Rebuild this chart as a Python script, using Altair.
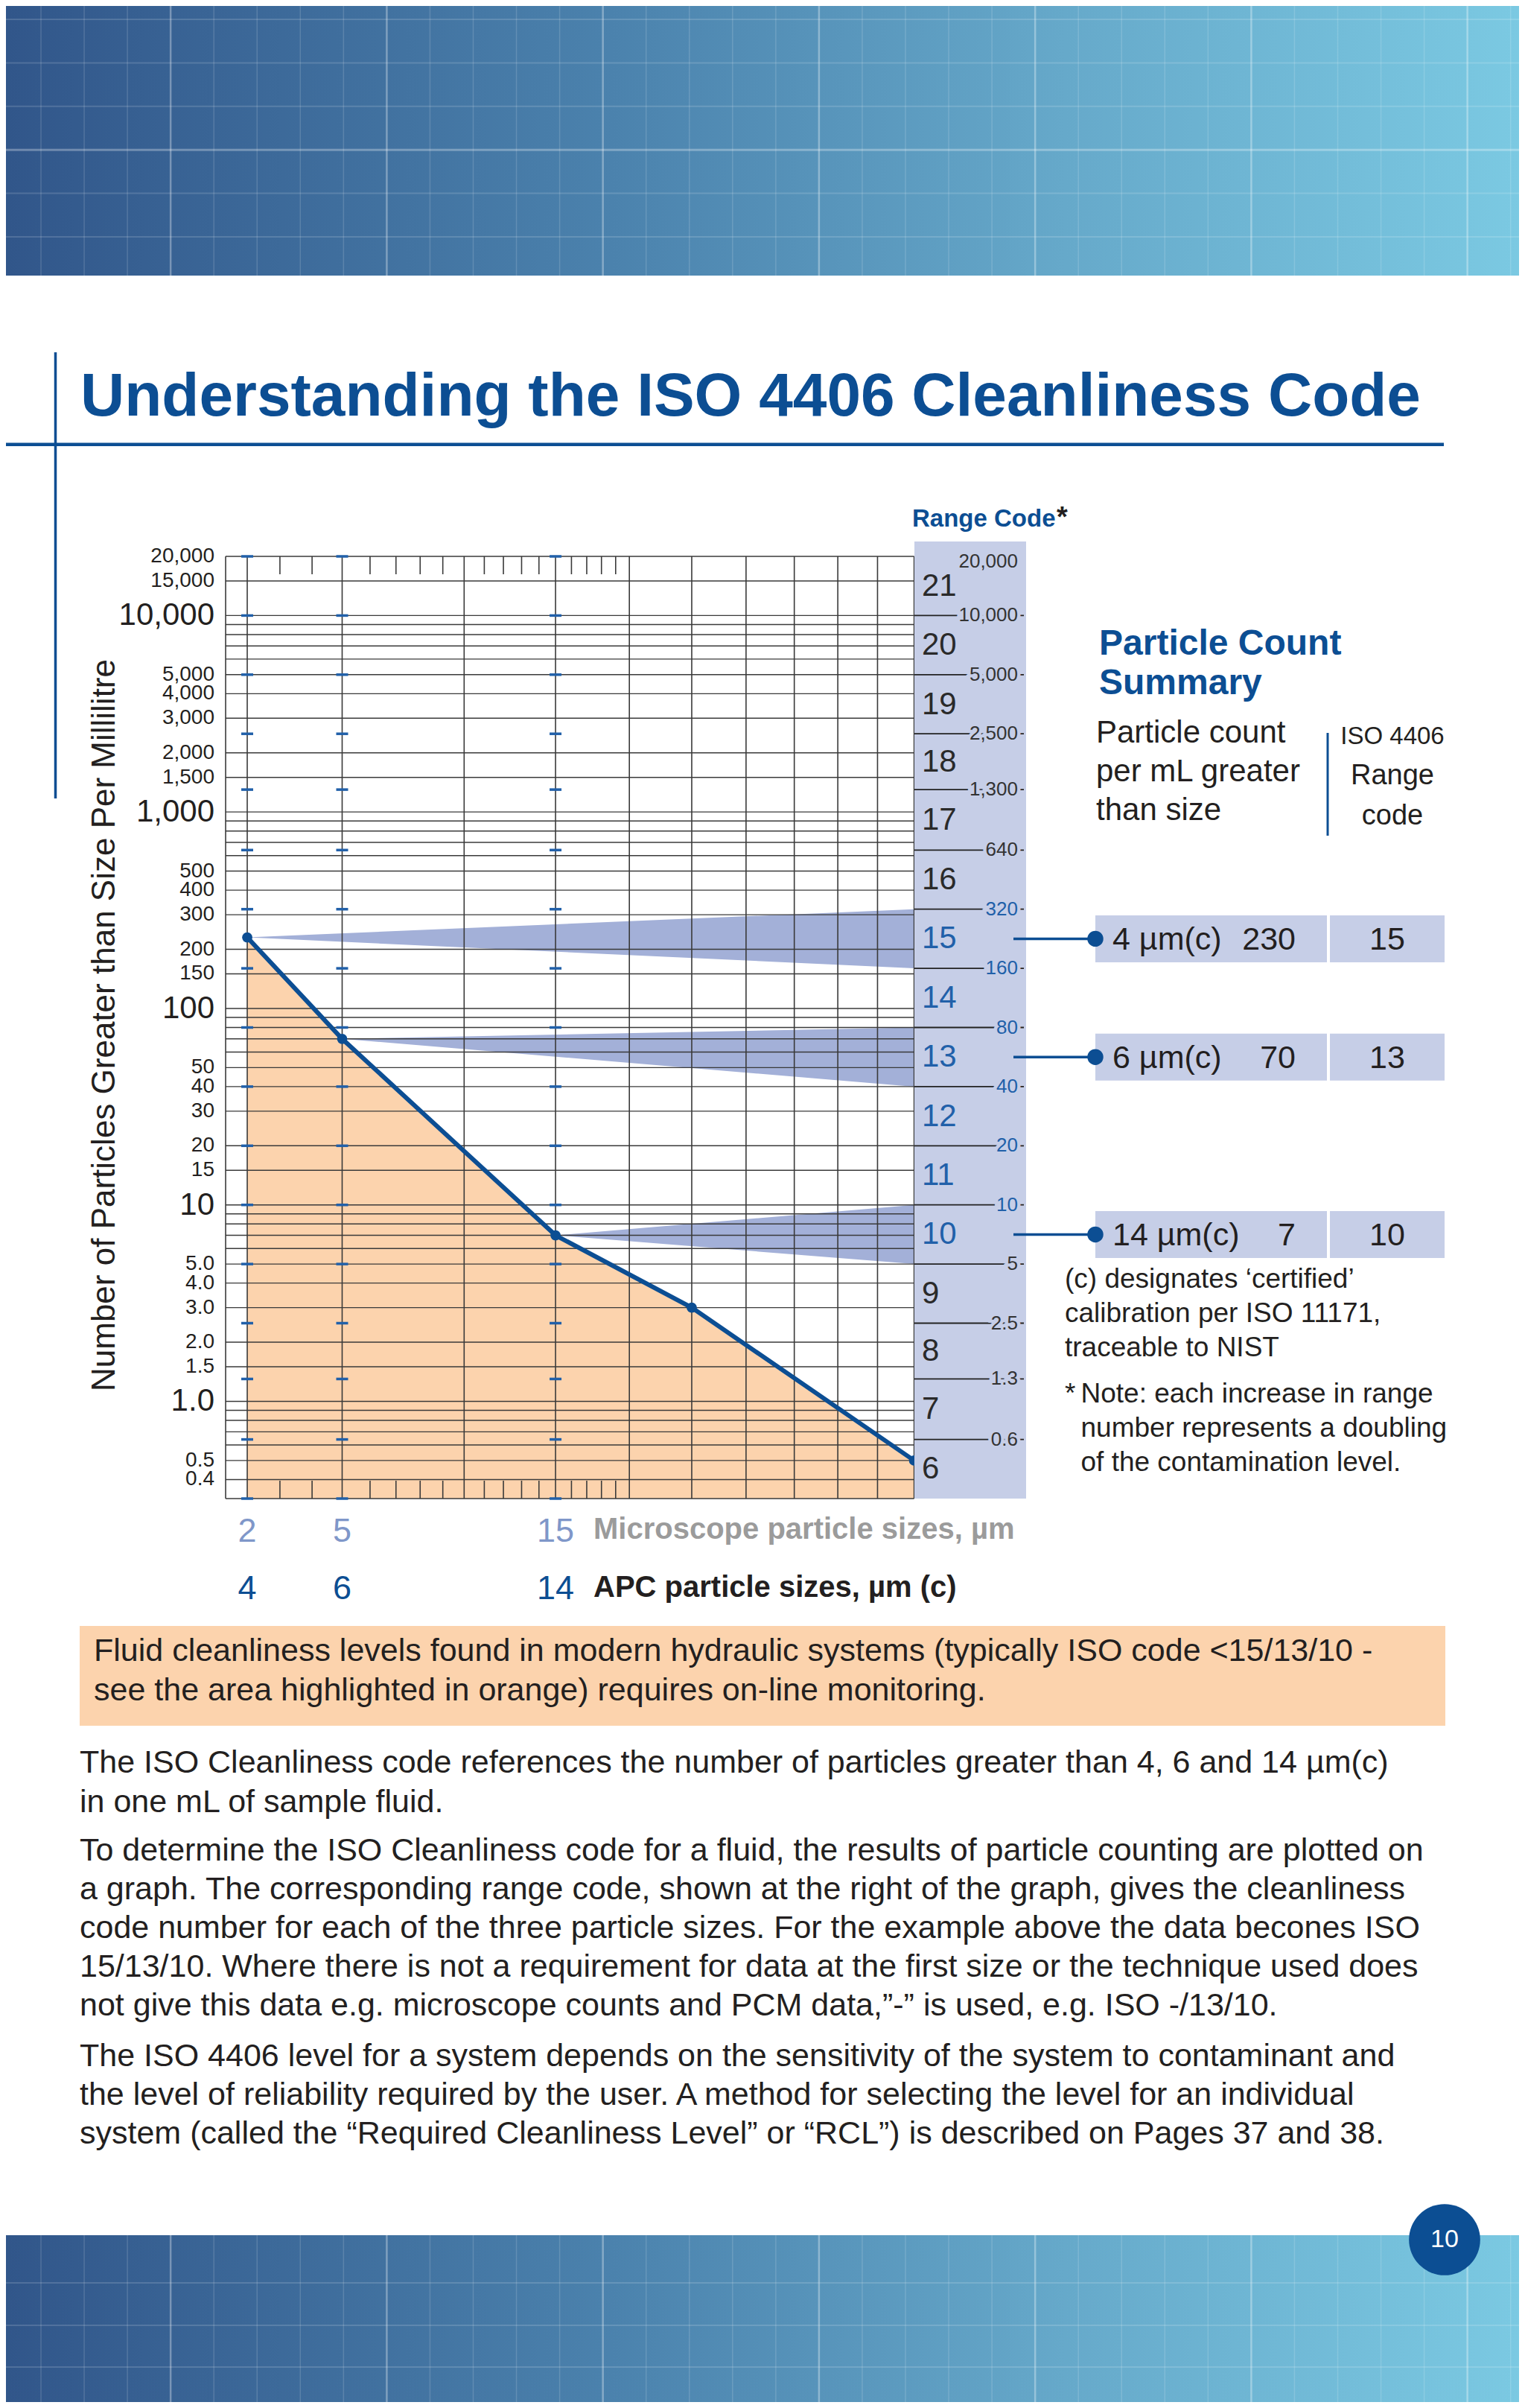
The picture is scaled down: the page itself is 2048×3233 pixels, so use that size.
import math
import altair as alt
import pandas as pd

# ------------------------------------------------------------------
# Values
# ------------------------------------------------------------------
micro_sizes = [2, 5, 15, 25, 50]          # microscope particle size, µm
particle_counts = [230, 70, 7, 3, 0.5]    # particles per mL greater than size

summary_labels = ["4 µm(c)", "6 µm(c)", "14 µm(c)"]
summary_micro = [2, 5, 15]
summary_counts = [230, 70, 7]
summary_codes = [15, 13, 10]

range_codes = [6, 7, 8, 9, 10, 11, 12, 13, 14, 15, 16, 17, 18, 19, 20, 21]
range_bounds = [0.32, 0.64, 1.3, 2.5, 5, 10, 20, 40, 80, 160, 320, 640, 1300, 2500, 5000, 10000, 20000]
range_bound_labels = ["", "0.6", "1.3", "2.5", "5", "10", "20", "40", "80", "160", "320", "640",
                      "1,300", "2,500", "5,000", "10,000", "20,000"]

y_major_values = [10000, 1000, 100, 10, 1]
y_major_labels = ["10,000", "1,000", "100", "10", "1.0"]
y_minor_values = [20000, 15000, 5000, 4000, 3000, 2000, 1500, 500, 400, 300, 200, 150,
                  50, 40, 30, 20, 15, 5, 4, 3, 2, 1.5, 0.5, 0.4]
y_minor_labels = ["20,000", "15,000", "5,000", "4,000", "3,000", "2,000", "1,500", "500", "400",
                  "300", "200", "150", "50", "40", "30", "20", "15", "5.0", "4.0", "3.0", "2.0",
                  "1.5", "0.5", "0.4"]

y_grid = [20000, 15000, 10000, 9000, 8000, 7000, 6000, 5000, 4000, 3000, 2000, 1500,
          1000, 900, 800, 700, 600, 500, 400, 300, 200, 150, 100, 90, 80, 70, 60, 50, 40,
          30, 20, 15, 10, 9, 8, 7, 6, 5, 4, 3, 2, 1.5, 1, 0.9, 0.8, 0.7, 0.6, 0.5, 0.4, 0.32]
x_grid = [1, 2, 5, 10, 15, 20, 25, 30, 35, 40, 45, 50]
x_minor = [3, 4, 6, 7, 8, 9, 11, 12, 13, 14, 16, 17, 18, 19]
dash_sizes = [2, 5, 15]

axis_micro_sizes = [2, 5, 15]
axis_micro_labels = ["2", "5", "15"]
axis_apc_labels = ["4", "6", "14"]

TITLE = "Understanding the ISO 4406 Cleanliness Code"
Y_TITLE = "Number of Particles Greater than Size Per Millilitre"
MICRO_TITLE = "Microscope particle sizes, µm"
APC_TITLE = "APC particle sizes, µm (c)"
SUMMARY_TITLE = "Particle Count\nSummary"
SUMMARY_COL1 = "Particle count\nper mL greater\nthan size"
SUMMARY_COL2A = "ISO 4406"
SUMMARY_COL2B = "Range\ncode"
NOTE_C = "(c) designates \u2018certified\u2019\ncalibration per ISO 11171,\ntraceable to NIST"
NOTE_STAR = "Note: each increase in range\nnumber represents a doubling\nof the contamination level."
BOX_TEXT = ("Fluid cleanliness levels found in modern hydraulic systems (typically ISO code <15/13/10 -\n"
            "see the area highlighted in orange) requires on-line monitoring.")
PARA1 = ("The ISO Cleanliness code references the number of particles greater than 4, 6 and 14 \u00b5m(c)\n"
         "in one mL of sample fluid.")
PARA2 = ("To determine the ISO Cleanliness code for a fluid, the results of particle counting are plotted on\n"
         "a graph. The corresponding range code, shown at the right of the graph, gives the cleanliness\n"
         "code number for each of the three particle sizes. For the example above the data becones ISO\n"
         "15/13/10. Where there is not a requirement for data at the first size or the technique used does\n"
         "not give this data e.g. microscope counts and PCM data,\u201d-\u201d is used, e.g. ISO -/13/10.")
PARA3 = ("The ISO 4406 level for a system depends on the sensitivity of the system to contaminant and\n"
         "the level of reliability required by the user. A method for selecting the level for an individual\n"
         "system (called the \u201cRequired Cleanliness Level\u201d or \u201cRCL\u201d) is described on Pages 37 and 38.")
PAGE_NO = "10"

# ------------------------------------------------------------------
# Styles / geometry
# ------------------------------------------------------------------
W, H = 2032, 3217
PL, PR, PT, PB = 295, 1219.6, 739, 2004
XMAX = math.log10(50) ** 2
XS = alt.Scale(domain=[0, XMAX], range=[PL, PR], nice=False, zero=False)
YS = alt.Scale(type="log", domain=[0.32, 20000], range=[PB, PT], nice=False)
XT = "pow(log(datum.size) / LN10, 2)"

SANS = "Liberation Sans"
BLUE = "#0c4e93"
MIDBLUE = "#2160a9"
LIGHTBLUE_TXT = "#7f97c9"
COL_BG = "#c6cee7"
WEDGE = "#a3b0d8"
ORANGE = "#fcd3ad"
GRID = "#3a3a3a"
TXT = "#231f20"

GRAD = {"gradient": "linear", "x1": 0, "y1": 0, "x2": 1, "y2": 0,
        "stops": [{"offset": 0, "color": "#31568a"}, {"offset": 0.4, "color": "#4b82ad"},
                  {"offset": 0.7, "color": "#66a9ca"}, {"offset": 1, "color": "#7bc9e2"}]}

layers = []
one = pd.DataFrame({"k": [0]})


def add(c):
    layers.append(c)


def xenc():
    return alt.X("xt:Q", scale=XS, axis=None)


def yenc(field):
    return alt.Y(field, scale=YS, axis=None)


def text_block(text, x, y, size, color=TXT, weight="normal", align="left",
               baseline="alphabetic", font=SANS, angle=None, line_height=None):
    props = dict(fontSize=size, fill=color, fontWeight=weight, align=align,
                 baseline=baseline, font=font)
    if angle is not None:
        props["angle"] = angle
    if "\n" in text:
        props["lineBreak"] = "\n"
        props["lineHeight"] = line_height
    return alt.Chart(pd.DataFrame({"t": [text]})).mark_text(**props).encode(
        x=alt.value(x), y=alt.value(y), text="t:N")


def band(y0, y1, hlines):
    add(alt.Chart(one).mark_rect(fill=GRAD).encode(
        x=alt.value(0), x2=alt.value(W), y=alt.value(y0), y2=alt.value(y1)))
    add(alt.Chart(alt.sequence(0, 35, as_="k"))
        .transform_calculate(px="47 + 58.05 * datum.k", hi="datum.k % 5 == 3 ? 1 : 0")
        .mark_rule(color="white")
        .encode(x=alt.X("px:Q", scale=None, axis=None), y=alt.value(y0), y2=alt.value(y1),
                strokeOpacity=alt.condition(alt.datum.hi == 1, alt.value(0.33), alt.value(0.15)),
                strokeWidth=alt.condition(alt.datum.hi == 1, alt.value(2.5), alt.value(1.5))))
    add(alt.Chart(pd.DataFrame({"py": hlines, "hi": [1 if i == 3 else 0 for i in range(len(hlines))]}))
        .mark_rule(color="white")
        .encode(y=alt.Y("py:Q", scale=None, axis=None), x=alt.value(0), x2=alt.value(W),
                strokeOpacity=alt.condition(alt.datum.hi == 1, alt.value(0.3), alt.value(0.15)),
                strokeWidth=alt.condition(alt.datum.hi == 1, alt.value(3), alt.value(2))))


# header and footer bands
band(0, 362, [18, 76.4, 134.8, 193.2, 251.6, 310])
band(2993, H, [3057, 3114, 3170])
add(alt.Chart(one).mark_circle(size=9160, color=BLUE, opacity=1).encode(
    x=alt.value(1932), y=alt.value(2999)))
add(text_block(PAGE_NO, 1932, 2999, 34, color="white", align="center", baseline="middle"))

# title
add(alt.Chart(one).mark_rule(color=BLUE, strokeWidth=3.5).encode(
    x=alt.value(66.5), y=alt.value(465), y2=alt.value(1064)))
add(alt.Chart(one).mark_rule(color=BLUE, strokeWidth=4.5).encode(
    x=alt.value(0), x2=alt.value(1931), y=alt.value(588.7)))
add(text_block(TITLE, 100, 550, 82, color=BLUE, weight="bold"))

# ------------------------------------------------------------------
# main plot
# ------------------------------------------------------------------
line_df = pd.DataFrame({"size": micro_sizes, "count": particle_counts})

add(alt.Chart(line_df).transform_calculate(xt=XT)
    .mark_area(color=ORANGE, opacity=1)
    .encode(x=xenc(), y=yenc("count:Q"), y2=alt.Y2Datum(0.32)))

wedge_rows = []
for i, (m, c, code) in enumerate(zip(summary_micro, summary_counts, summary_codes)):
    lo, hi = range_bounds[code - range_codes[0]], range_bounds[code - range_codes[0] + 1]
    wedge_rows.append({"g": i, "size": m, "top": c, "bot": c})
    wedge_rows.append({"g": i, "size": x_grid[-1], "top": hi, "bot": lo})
add(alt.Chart(pd.DataFrame(wedge_rows)).transform_calculate(xt=XT)
    .mark_area(color=WEDGE, opacity=1)
    .encode(x=xenc(), y=yenc("top:Q"), y2="bot:Q", detail="g:N"))

add(alt.Chart(pd.DataFrame({"v": y_grid})).mark_rule(color=GRID, strokeWidth=1.4)
    .encode(y=yenc("v:Q"), x=alt.value(PL), x2=alt.value(PR)))
add(alt.Chart(pd.DataFrame({"size": x_grid})).transform_calculate(xt=XT)
    .mark_rule(color=GRID, strokeWidth=1.6)
    .encode(x=xenc(), y=alt.value(PT), y2=alt.value(PB)))
minor_df = pd.DataFrame({"size": x_minor})
add(alt.Chart(minor_df).transform_calculate(xt=XT).mark_rule(color=GRID, strokeWidth=1.6)
    .encode(x=xenc(), y=alt.value(PT), y2=alt.value(PT + 24)))
add(alt.Chart(minor_df).transform_calculate(xt=XT).mark_rule(color=GRID, strokeWidth=1.6)
    .encode(x=xenc(), y=alt.value(PB - 24), y2=alt.value(PB)))

dash_df = pd.DataFrame([{"size": s, "v": b} for s in dash_sizes for b in range_bounds])
add(alt.Chart(dash_df).transform_calculate(xt=XT)
    .mark_tick(orient="horizontal", size=16, thickness=3.5, color=MIDBLUE, opacity=1)
    .encode(x=xenc(), y=yenc("v:Q")))

add(alt.Chart(line_df).transform_calculate(xt=XT)
    .mark_line(color=BLUE, strokeWidth=6)
    .encode(x=xenc(), y=yenc("count:Q")))
add(alt.Chart(line_df).transform_calculate(xt=XT)
    .mark_circle(size=190, color=BLUE, opacity=1)
    .encode(x=xenc(), y=yenc("count:Q")))

# y axis labels and title
add(alt.Chart(pd.DataFrame({"v": y_minor_values, "t": y_minor_labels}))
    .mark_text(fontSize=28, font=SANS, align="right", baseline="middle", fill=TXT)
    .encode(y=yenc("v:Q"), x=alt.value(280), text="t:N"))
add(alt.Chart(pd.DataFrame({"v": y_major_values, "t": y_major_labels}))
    .mark_text(fontSize=42, font=SANS, align="right", baseline="middle", fill=TXT)
    .encode(y=yenc("v:Q"), x=alt.value(280), text="t:N"))
add(text_block(Y_TITLE, 145.6, 1368.5, 44, align="center", angle=270))

# x axis labels
ax_df = pd.DataFrame({"size": axis_micro_sizes, "m": axis_micro_labels, "a": axis_apc_labels})
add(alt.Chart(ax_df).transform_calculate(xt=XT)
    .mark_text(fontSize=45, font=SANS, align="center", baseline="alphabetic", fill=LIGHTBLUE_TXT)
    .encode(x=xenc(), y=alt.value(2062), text="m:N"))
add(alt.Chart(ax_df).transform_calculate(xt=XT)
    .mark_text(fontSize=45, font=SANS, align="center", baseline="alphabetic", fill=BLUE)
    .encode(x=xenc(), y=alt.value(2139), text="a:N"))
add(text_block(MICRO_TITLE, 789, 2058, 40, color="#9b9b9b", weight="bold"))
add(text_block(APC_TITLE, 789, 2136, 40, color=TXT, weight="bold"))

# ------------------------------------------------------------------
# range code column
# ------------------------------------------------------------------
add(alt.Chart(one).mark_rect(color=COL_BG).encode(
    x=alt.value(1220), x2=alt.value(1370), y=alt.value(719), y2=alt.value(PB)))

bound_df = pd.DataFrame({"v": range_bounds, "t": range_bound_labels})
inner = bound_df.iloc[1:-1]
add(alt.Chart(inner).mark_rule(color="#222222", strokeWidth=1.8)
    .encode(y=yenc("v:Q"), x=alt.value(1220), x2=alt.value(1367)))
add(alt.Chart(inner).mark_text(fontSize=26, font=SANS, align="right", baseline="middle",
                               fill=COL_BG, stroke=COL_BG, strokeWidth=9)
    .encode(y=yenc("v:Q"), x=alt.value(1359), text="t:N"))
blue_lab = (alt.datum.v >= 10) & (alt.datum.v <= 320)
add(alt.Chart(inner).mark_text(fontSize=26, font=SANS, align="right", baseline="middle")
    .encode(y=yenc("v:Q"), x=alt.value(1359), text="t:N",
            color=alt.condition(blue_lab, alt.value(MIDBLUE), alt.value("#333333"))))
add(alt.Chart(bound_df.iloc[-1:]).mark_text(fontSize=26, font=SANS, align="right",
                                            baseline="middle", fill="#333333", dy=7)
    .encode(y=yenc("v:Q"), x=alt.value(1359), text="t:N"))

code_df = pd.DataFrame({"code": range_codes, "lo": range_bounds[:-1], "hi": range_bounds[1:]})
blue_code = (alt.datum.code >= 10) & (alt.datum.code <= 15)
add(alt.Chart(code_df).transform_calculate(mid="sqrt(datum.lo * datum.hi)")
    .mark_text(fontSize=42, font=SANS, align="left", baseline="middle")
    .encode(y=yenc("mid:Q"), x=alt.value(1230), text="code:N",
            color=alt.condition(blue_code, alt.value(MIDBLUE), alt.value("#2a2a2a"))))
add(text_block("Range Code", 1217, 699, 33, color=BLUE, weight="bold"))
add(text_block("*", 1411, 699, 38, color=TXT, weight="bold"))

# ------------------------------------------------------------------
# particle count summary
# ------------------------------------------------------------------
sum_df = pd.DataFrame({
    "lab": summary_labels, "count": summary_counts, "code": summary_codes,
    "lo": [range_bounds[c - range_codes[0]] for c in summary_codes],
    "hi": [range_bounds[c - range_codes[0] + 1] for c in summary_codes],
})
sbase = alt.Chart(sum_df).transform_calculate(mid="sqrt(datum.lo * datum.hi)")
add(sbase.mark_tick(orient="horizontal", size=311, thickness=63, color=COL_BG, opacity=1)
    .encode(y=yenc("mid:Q"), x=alt.value(1618.5)))
add(sbase.mark_tick(orient="horizontal", size=154, thickness=63, color=COL_BG, opacity=1)
    .encode(y=yenc("mid:Q"), x=alt.value(1855)))
add(sbase.mark_rule(color=BLUE, strokeWidth=3.5)
    .encode(y=yenc("mid:Q"), x=alt.value(1353), x2=alt.value(1463)))
add(sbase.mark_circle(size=460, color=BLUE, opacity=1)
    .encode(y=yenc("mid:Q"), x=alt.value(1463)))
add(sbase.mark_text(fontSize=43, font=SANS, align="left", baseline="middle", fill=TXT, dy=2)
    .encode(y=yenc("mid:Q"), x=alt.value(1486), text="lab:N"))
add(sbase.mark_text(fontSize=43, font=SANS, align="right", baseline="middle", fill=TXT, dy=2)
    .encode(y=yenc("mid:Q"), x=alt.value(1732), text="count:N"))
add(sbase.mark_text(fontSize=43, font=SANS, align="center", baseline="middle", fill=TXT, dy=2)
    .encode(y=yenc("mid:Q"), x=alt.value(1855), text="code:N"))

add(text_block(SUMMARY_TITLE, 1468, 871, 48, color=BLUE, weight="bold", line_height=53))
add(text_block(SUMMARY_COL1, 1464, 989, 42, line_height=52))
add(alt.Chart(one).mark_rule(color=BLUE, strokeWidth=3).encode(
    x=alt.value(1775), y=alt.value(976), y2=alt.value(1114)))
add(text_block(SUMMARY_COL2A, 1862, 991, 33, align="center"))
add(text_block(SUMMARY_COL2B, 1862, 1045, 38, align="center", line_height=54))
add(text_block(NOTE_C, 1422, 1721, 37, line_height=46))
add(text_block("*", 1422, 1875, 37))
add(text_block(NOTE_STAR, 1443.5, 1875, 37, line_height=46))

# ------------------------------------------------------------------
# orange box and paragraphs
# ------------------------------------------------------------------
add(alt.Chart(one).mark_rect(color=ORANGE).encode(
    x=alt.value(99), x2=alt.value(1933), y=alt.value(2175), y2=alt.value(2309)))
add(text_block(BOX_TEXT, 118, 2222, 43, line_height=53))
add(text_block(PARA1, 99, 2372, 43, line_height=53))
add(text_block(PARA2, 99, 2490, 43, line_height=52))
add(text_block(PARA3, 99, 2766, 43, line_height=52))

chart = alt.layer(*layers).properties(
    width=W, height=H, padding=0,
    autosize=alt.AutoSizeParams(type="none"),
    background="white",
).configure_view(stroke=None)

chart.save("out.html", embed_options={"renderer": "svg", "actions": False})
